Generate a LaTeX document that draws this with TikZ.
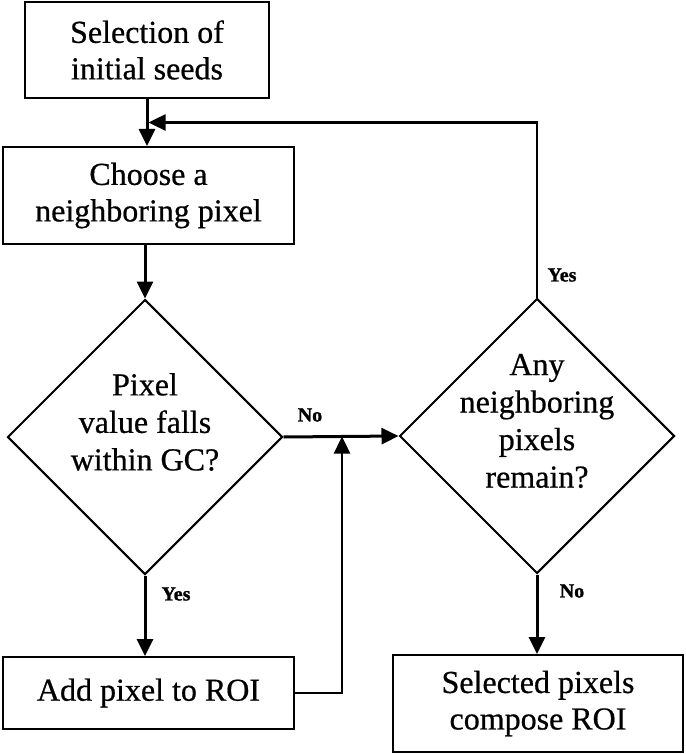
\documentclass[tikz,border=0pt]{standalone}
\usepackage{fontspec}
\setmainfont{Liberation Serif}[FakeBold=0.6]
\newfontfamily\lblfont{Liberation Serif}[FakeBold=1.2]
\usetikzlibrary{shapes.geometric,arrows.meta}
\begin{document}
\begin{tikzpicture}[x=1pt,y=-1pt,
  box/.style={draw, line width=2pt, align=center, inner sep=0pt,
    font=\fontsize{32}{36.5}\selectfont},
  dia/.style={draw, diamond, line width=2pt, inner sep=0pt},
  txt/.style={align=center, inner sep=0pt, font=\fontsize{32}{37.5}\selectfont},
  arr/.style={line width=3pt, -{Triangle[length=17pt,width=16pt]}},
  thinarr/.style={line width=2.4pt, -{Triangle[length=17pt,width=16pt]}},
  lbl/.style={inner sep=0pt, font=\lblfont\bfseries\fontsize{20}{23}\selectfont}]
\useasboundingbox (0,0) rectangle (685,754);
\node[box, minimum width=244pt, minimum height=96pt] (b1) at (147,50) {Selection of\\initial seeds};
\node[box, minimum width=291pt, minimum height=97pt] (b2) at (148.5,195.5) {Choose a\\neighboring pixel};
\node[dia, minimum width=275pt, minimum height=275pt] (d1) at (145,437) {};
\node[txt] (t1) at (145,422) {Pixel\\value falls\\within GC?};
\node[dia, minimum width=275pt, minimum height=275pt] (d2) at (537,436) {};
\node[txt] (t2) at (537,421) {Any\\neighboring\\pixels\\remain?};
\node[box, minimum width=291pt, minimum height=72pt] (add) at (148.5,693) {Add pixel to ROI};
\node[box, minimum width=290pt, minimum height=97pt] (b3) at (538,703.5) {Selected pixels\\compose ROI};
\coordinate (fb) at (148.5,122.5);
\coordinate (m) at (342,436.5);
\draw[arr] (b1.south) -- (b1.south |- b2.north);
\draw[arr] (d1.north |- b2.south) -- (d1.north);
\draw[arr] (d1.south) -- (d1.south |- add.north);
\draw[arr] (d1.east) -- (d2.west);
\draw[thinarr] (add.east) -| (m);
\draw[thinarr] (d2.north) |- (fb);
\draw[arr] (d2.south) -- (d2.south |- b3.north);
\node[lbl] (lno1) at (310,415) {No};
\node[lbl] (lyes1) at (176,594) {Yes};
\node[lbl] (lyes2) at (562,275) {Yes};
\node[lbl] (lno2) at (572,591) {No};
\end{tikzpicture}
\end{document}
